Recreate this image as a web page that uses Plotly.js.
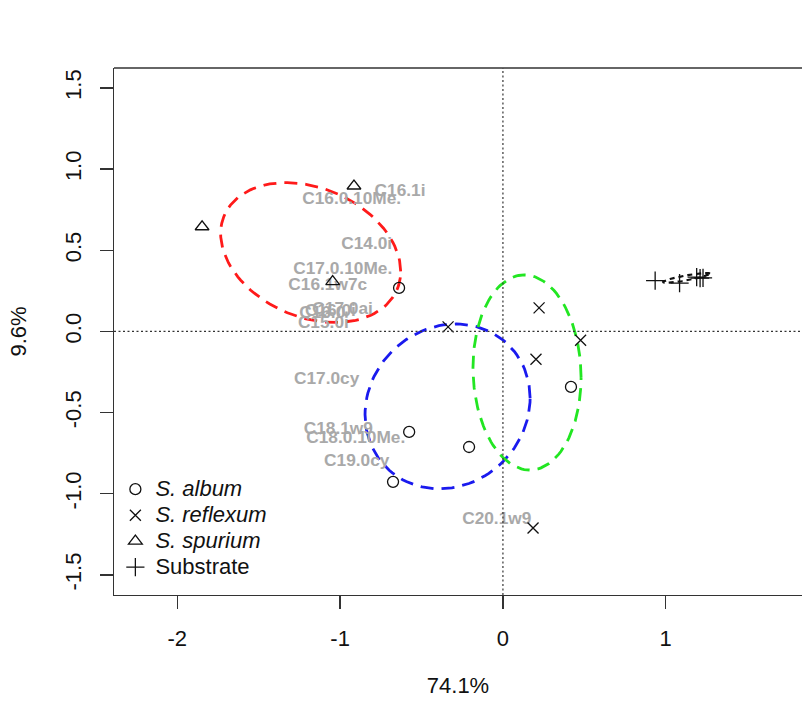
<!DOCTYPE html>
<html>
<head>
<meta charset="utf-8">
<script src="https://cdn.plot.ly/plotly-3.0.1.min.js"></script>
<style>html,body{margin:0;padding:0;background:#fff;}#plot{width:802px;height:706px;}</style>
</head>
<body>
<div id="plot"></div>
<script>
// ---- data ----
var albumX = [-0.638, 0.418, -0.576, -0.208, -0.675];
var albumY = [0.268, -0.342, -0.619, -0.712, -0.927];
var reflexumX = [-0.337, 0.222, 0.477, 0.203, 0.185];
var reflexumY = [0.028, 0.145, -0.054, -0.171, -1.211];
var spuriumX = [-0.915, -1.848, -1.046];
var spuriumY = [0.896, 0.645, 0.307];
var substrateX = [0.935, 1.085, 1.19, 1.211, 1.229];
var substrateY = [0.313, 0.297, 0.335, 0.328, 0.330];

var fattyAcids = ["C16.1i", "C16.0.10Me.", "C14.0i", "C17.0.10Me.", "C16.1w7c",
                  "C17.0ai", "C16.0i", "C16.0", "C15.0i", "C17.0cy",
                  "C18.1w9", "C18.0.10Me.", "C19.0cy", "C20.1w9"];
var faX = [-0.632, -0.929, -0.837, -0.984, -1.076,
           -0.985, -1.06, -1.11, -1.103, -1.083,
           -1.011, -0.904, -0.898, -0.038];
var faY = [0.862, 0.810, 0.533, 0.379, 0.280,
           0.132, 0.120, 0.112, 0.046, -0.299,
           -0.607, -0.663, -0.802, -1.157];

// ellipse parameters: centre, half-extent in x and y, correlation
var ellGroups = ["S. spurium", "S. album", "S. reflexum", "Substrate"];
var ellCX = [-1.181, -0.340, 0.148, 1.128];
var ellCY = [0.486, -0.462, -0.253, 0.330];
var ellSX = [0.553, 0.507, 0.332, 0.144];
var ellSY = [0.431, 0.508, 0.601, 0.030];
var ellRho = [-0.27, 0.10, -0.05, 0.85];
var ellColors = ["#ff1a1a", "#1a1aee", "#22e622", "#111111"];
var ellWidths = [2.8, 2.8, 2.8, 2.2];

var xTickVals = [-2, -1, 0, 1];
var xTickText = ["-2", "-1", "0", "1"];
var yTickVals = [-1.5, -1.0, -0.5, 0.0, 0.5, 1.0, 1.5];
var yTickText = ["-1.5", "-1.0", "-0.5", "0.0", "0.5", "1.0", "1.5"];

// ---- build traces ----
var traces = [];
for (var e = 0; e < ellCX.length; e++) {
  var ex = [], ey = [];
  var s = Math.sqrt(1 - ellRho[e] * ellRho[e]);
  for (var k = 0; k <= 120; k++) {
    var t = 2 * Math.PI * k / 120;
    ex.push(ellCX[e] + ellSX[e] * Math.cos(t));
    ey.push(ellCY[e] + ellSY[e] * (ellRho[e] * Math.cos(t) + s * Math.sin(t)));
  }
  traces.push({x: ex, y: ey, type: "scatter", mode: "lines", showlegend: false,
    hoverinfo: "skip", name: ellGroups[e],
    line: {color: ellColors[e], width: ellWidths[e], dash: e === 3 ? "5px,4px" : "13px,8px"}});
}

traces.push({x: faX, y: faY, text: fattyAcids, type: "scatter", mode: "text",
  showlegend: false, hoverinfo: "text",
  textfont: {family: "Liberation Sans, Arial, sans-serif", size: 17.3, color: "#a9a9a9", weight: "bold"}});

var mk = function(sym, sz) { return {symbol: sym, size: sz, color: "#111", line: {color: "#111", width: 1.3}}; };
var lg = function(s) { return '<span style="font-size:22px">' + s + '</span>'; };
traces.push({x: albumX, y: albumY, type: "scatter", mode: "markers", name: lg("<i>S. album</i>"), marker: mk("circle-open", 11)});
traces.push({x: reflexumX, y: reflexumY, type: "scatter", mode: "markers", name: lg("<i>S. reflexum</i>"), marker: mk("x-thin-open", 11)});
traces.push({x: spuriumX, y: spuriumY, type: "scatter", mode: "markers", name: lg("<i>S. spurium</i>"), marker: mk("triangle-up-open", 12)});
traces.push({x: substrateX, y: substrateY, type: "scatter", mode: "markers", name: lg("Substrate"), marker: mk("cross-thin-open", 13)});

var font = {family: "Liberation Sans, Arial, sans-serif", size: 22, color: "#111"};
var layout = {
  width: 802, height: 706,
  margin: {l: 114, r: 0, t: 68, b: 111, pad: 0},
  paper_bgcolor: "#fff", plot_bgcolor: "#fff",
  font: font,
  showlegend: true,
  legend: {x: 0.002, y: 0.235, xanchor: "left", yanchor: "top", bgcolor: "rgba(0,0,0,0)",
    font: {family: "Liberation Sans, Arial, sans-serif", size: 17.7, color: "#111"},
    tracegroupgap: 0, itemwidth: 30},
  xaxis: {range: [-2.389, 1.837], showgrid: false, zeroline: false,
    showline: true, linecolor: "#333", linewidth: 1.4,
    ticks: "outside", ticklen: 13, tickwidth: 1.3, tickcolor: "#333",
    tickvals: xTickVals, ticktext: xTickText, ticklabelstandoff: 10,
    tickfont: font,
    title: {text: "74.1%", font: font, standoff: 28}},
  yaxis: {range: [-1.624, 1.623], showgrid: false, zeroline: false,
    showline: true, linecolor: "#333", linewidth: 1.4,
    ticks: "outside", ticklen: 13, tickwidth: 1.3, tickcolor: "#333",
    tickvals: yTickVals, ticktext: yTickText, tickangle: -90, ticklabelstandoff: 10,
    tickfont: font,
    title: {text: "9.6%", font: font, standoff: 28}},
  shapes: [
    {type: "line", xref: "paper", yref: "paper", x0: 0, x1: 1, y0: 1, y1: 1, line: {color: "#333", width: 1.4}},
    {type: "line", xref: "paper", yref: "y", x0: 0, x1: 1, y0: 0, y1: 0, line: {color: "#333", width: 1.2, dash: "2px,2.5px"}},
    {type: "line", xref: "x", yref: "paper", x0: 0, x1: 0, y0: 0, y1: 1, line: {color: "#333", width: 1.2, dash: "2px,2.5px"}}
  ]
};
Plotly.newPlot("plot", traces, layout, {displayModeBar: false, staticPlot: true});
</script>
</body>
</html>
